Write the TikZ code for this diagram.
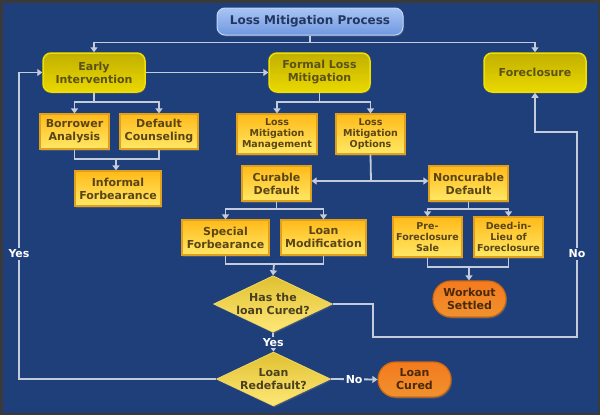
\documentclass[tikz,border=0pt]{standalone}
\usepackage{fontspec}
\setmainfont{DejaVu Sans}
\usetikzlibrary{arrows.meta,shapes,positioning,calc,shadows}

\definecolor{bgBlue}{HTML}{1F3F7A}
\definecolor{frameGray}{HTML}{3A3A3A}
\definecolor{lineGray}{HTML}{C4CCDC}
\definecolor{boxText}{HTML}{5A4614}

\begin{document}
\begin{tikzpicture}[x=1pt,y=-1pt,->,>={Triangle[length=5pt,width=7pt]},
line width=1.8pt, draw=lineGray]
\tikzstyle{every node}=[font=\bfseries\fontsize{11}{13}\selectfont, align=center, text=boxText, line width=1.2pt]
 \tikzset{
 	stepBox/.style={
 		rectangle, inner sep=1pt,
 		top color=orange!60!yellow!90!white, bottom color=yellow!70!orange!60!white,
 		draw={rgb,255:red,224;green,160;blue,28},
 		drop shadow={shadow xshift=1pt,shadow yshift=-1.5pt,opacity=0.35}
 	},
 	phaseBox/.style={
 		rectangle, rounded corners=8pt, line width=1.5pt,
 		minimum height=39pt,
 		top color={rgb,255:red,194;green,176;blue,0}, bottom color={rgb,255:red,234;green,216;blue,0},
 		draw={rgb,255:red,240;green,224;blue,0}, text={rgb,255:red,90;green,82;blue,24},
 		drop shadow={shadow xshift=1pt,shadow yshift=-1.5pt,opacity=0.35}
 	},
 	choiceBox/.style={
 		diamond, aspect=2.1, inner sep=0pt, line width=0.8pt,
 		minimum width=114pt, minimum height=54pt,
 		top color={rgb,255:red,224;green,192;blue,48}, bottom color={rgb,255:red,255;green,232;blue,120},
 		draw={rgb,255:red,240;green,216;blue,96}, text={rgb,255:red,74;green,64;blue,32},
 		drop shadow={shadow xshift=1pt,shadow yshift=-1.5pt,opacity=0.35}
 	},
 	endBox/.style={
 		rounded rectangle, inner sep=1pt,
 		minimum width=75pt, minimum height=36pt,
 		top color={rgb,255:red,244;green,122;blue,30}, bottom color={rgb,255:red,240;green,146;blue,46},
 		draw={rgb,255:red,208;green,106;blue,16}, text={rgb,255:red,74;green,42;blue,8},
 		drop shadow={shadow xshift=1pt,shadow yshift=-1.5pt,opacity=0.35}
 	},
 	answerLabel/.style={
 		fill=bgBlue, text=white, inner sep=1.5pt
 	}
 }

\fill[bgBlue] (0,0) rectangle (600,415);
\draw[-,line width=2.5pt,draw=frameGray] (1.25,1.25) rectangle (598.75,413.75);
\useasboundingbox (0,0) rectangle (600,415);

%title
\node[rectangle, rounded corners=8pt, line width=1pt,
minimum width=186pt, minimum height=27pt,
top color={rgb,255:red,168;green,196;blue,244}, bottom color={rgb,255:red,112;green,152;blue,224},
draw={rgb,255:red,192;green,212;blue,248}, text={rgb,255:red,35;green,54;blue,96},
font=\bfseries\fontsize{12}{14}\selectfont,
drop shadow={shadow xshift=1pt,shadow yshift=-1.5pt,opacity=0.35}]
(LMP) at (310,21.5) {Loss Mitigation Process};

%--------------------------- phases ------------
\node[phaseBox, minimum width=102pt] (EI) at (94,72.5) {Early\\Intervention};
\node[phaseBox, minimum width=101pt] (FLM) at (319.5,72.5) {Formal Loss\\Mitigation};
\node[phaseBox, minimum width=102pt] (FC) at (535,72.5) {Foreclosure};

%--------------------------- early intervention ------------
\node[stepBox, minimum width=69pt, minimum height=35pt] (BA) at (74.5,131.5) {Borrower\\Analysis};
\node[stepBox, minimum width=78pt, minimum height=35pt] (DC) at (159,131.5) {Default\\Counseling};
\node[stepBox, minimum width=86pt, minimum height=35pt] (IF) at (118,188.5) {Informal\\Forbearance};

%--------------------------- formal loss mitigation ------------
\node[stepBox, minimum width=80pt, minimum height=40pt, font=\bfseries\fontsize{9.5}{11}\selectfont]
(LMM) at (277,134) {Loss\\Mitigation\\Management};
\node[stepBox, minimum width=69pt, minimum height=40pt, font=\bfseries\fontsize{9.5}{11}\selectfont]
(LMO) at (370.5,134) {Loss\\Mitigation\\Options};
\node[stepBox, minimum width=69pt, minimum height=35pt] (CD) at (276.5,183.5) {Curable\\Default};
\node[stepBox, minimum width=79pt, minimum height=35pt] (ND) at (468.5,183.5) {Noncurable\\Default};
\node[stepBox, minimum width=87pt, minimum height=35pt] (SF) at (225.5,237.5) {Special\\Forbearance};
\node[stepBox, minimum width=85pt, minimum height=35pt] (LM) at (323.5,237.5) {Loan\\Modification};
\node[stepBox, minimum width=69pt, minimum height=40pt, font=\bfseries\fontsize{9.5}{11}\selectfont]
(PFS) at (427.5,237) {Pre-\\Foreclosure\\Sale};
\node[stepBox, minimum width=69pt, minimum height=40pt, font=\bfseries\fontsize{9.5}{11}\selectfont]
(DIL) at (508.5,237) {Deed-in-\\Lieu of\\Foreclosure};

%--------------------------- outcomes ------------
\node[endBox] (WS) at (469.5,299) {Workout\\Settled};
\node[choiceBox] (HLC) at (273,304) {Has the\\loan Cured?};
\node[choiceBox] (LR) at (273.5,379) {Loan\\Redefault?};
\node[endBox, minimum height=35pt] (LC) at (414.5,379.5) {Loan\\Cured};

%junctions
\coordinate (J1) at (116,159);
\coordinate (J2) at (371,181);
\coordinate (J3) at (274,264);
\coordinate (J4) at (469,267);
\coordinate (loopLeft) at (19,254);
\coordinate (noDrop) at (373,337);
\coordinate (noRise) at (577,254);
\coordinate (foreTurn) at (535,132);

%--------------------------- connectors ------------
\draw (LMP.south) -- ++(0,7) -| (EI.north);
\draw (LMP.south) -- ++(0,7) -| (FC.north);
\draw (EI) -- (FLM);

\draw (EI.south) -- ++(0,9) -| (BA.north);
\draw (EI.south) -- ++(0,9) -| (DC.north);
\draw[-] (BA.south) |- (J1);
\draw[-] (DC.south) |- (J1);
\draw (J1) -- (J1 |- IF.north);

\draw (FLM.south) -- ++(0,9) -| (LMM.north);
\draw (FLM.south) -- ++(0,9) -| (LMO.north);
\draw[-] (LMO.south) -- (J2);
\draw (J2) -- (J2 -| CD.east);
\draw (J2) -- (J2 -| ND.west);

\draw (CD.south) -- ++(0,7) -| (SF.north);
\draw (CD.south) -- ++(0,7) -| (LM.north);
\draw[-] (SF.south) |- (J3);
\draw[-] (LM.south) |- (J3);
\draw (J3) -- (HLC.north);

\draw (ND.south) -- ++(0,7) -| (PFS.north);
\draw (ND.south) -- ++(0,7) -| (DIL.north);
\draw[-] (PFS.south) |- (J4);
\draw[-] (DIL.south) |- (J4);
\draw (J4) -- (J4 |- WS.north);

\draw (HLC.south) -- node[answerLabel] {Yes} (LR.north);
\draw (HLC.east) -| (noDrop) -| (noRise) node[answerLabel] {No} |- (foreTurn) -- (FC.south);
\draw (LR.east) -- node[answerLabel] {No} (LC.west);
\draw (LR.west) -| (loopLeft) node[answerLabel] {Yes} |- (EI.west);

\end{tikzpicture}
\end{document}
